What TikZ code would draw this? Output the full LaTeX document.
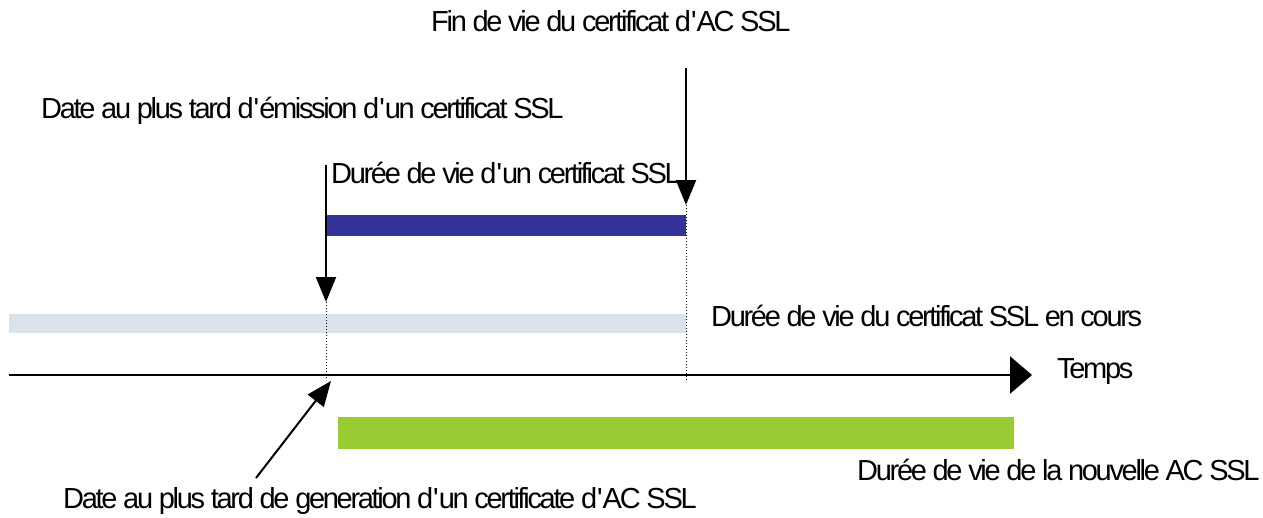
\documentclass[tikz,border=0pt]{standalone}
\usepackage{fontspec}
\usetikzlibrary{arrows.meta}
\newfontfamily\lblfont[LetterSpace=-8]{Liberation Sans}
\definecolor{barblue}{HTML}{333399}
\definecolor{barpale}{HTML}{DAE3EC}
\definecolor{bargreen}{HTML}{99CC33}
\tikzset{
  lbl/.style={anchor=base west, inner sep=0pt, font=\lblfont\fontsize{29}{32}\selectfont},
  bar/.style={draw=none, inner sep=0pt, anchor=north west},
  pointer/.style={line width=2pt, -{Triangle[length=25pt,width=20pt]}},
  guide/.style={line width=1pt, dash pattern=on 1pt off 2pt},
}
\begin{document}
\begin{tikzpicture}[x=1pt,y=-1pt]
\useasboundingbox (0,0) rectangle (1263,517);

% lifetime bars
\node[bar, fill=barpale, minimum width=677pt, minimum height=19pt] (cur) at (9,314) {};
\node[bar, fill=barblue, minimum width=360pt, minimum height=21pt] (new) at (326,215) {};
\node[bar, fill=bargreen, minimum width=676pt, minimum height=32pt] (ca) at (338,417) {};

% labels
\node[lbl] (tend) at (431,31) {Fin de vie du certificat d\textquotesingle AC SSL};
\node[lbl] (tlate) at (41,118) {Date au plus tard d\textquotesingle émission d\textquotesingle un certificat SSL};
\node[lbl] (tnew) at (331,183) {Durée de vie d\textquotesingle un certificat SSL};
\node[lbl] (tcur) at (711,326) {Durée de vie du certificat SSL en cours};
\node[lbl] (ttime) at (1057,378) {Temps};
\node[lbl] (tca) at (857,480) {Durée de vie de la nouvelle AC SSL};
\node[lbl] (tgen) at (63,508) {Date au plus tard de generation d\textquotesingle un certificate d\textquotesingle AC SSL};

% key points
\coordinate (endtop) at (686,68);
\coordinate (endtip) at (686,205);
\coordinate (endaxis) at (686,380);
\coordinate (latetop) at (326,165);
\coordinate (latetip) at (326,302);
\coordinate (lateaxis) at (326,380);
\coordinate (gentail) at (256,478);
\coordinate (gentip) at (331,381);
\coordinate (axstart) at (9,375);
\coordinate (axend) at (1032,375);

% time axis
\draw[line width=2.5pt, -{Triangle[length=22pt,width=37pt]}] (axstart) -- (axend);

% dotted guides
\draw[guide] (endtip) -- (endaxis);
\draw[guide] (latetip) -- (lateaxis);

% pointers
\draw[pointer] (endtop) -- (endtip);
\draw[pointer] (latetop) -- (latetip);
\draw[pointer] (gentail) -- (gentip);
\end{tikzpicture}
\end{document}
